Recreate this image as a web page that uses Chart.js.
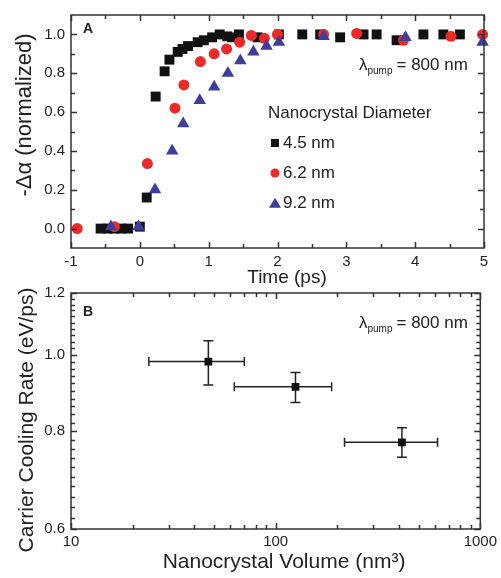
<!DOCTYPE html>
<html>
<head>
<meta charset="utf-8">
<script src="https://cdn.jsdelivr.net/npm/chart.js@4.4.1/dist/chart.umd.min.js"></script>
<style>
  html, body { margin: 0; padding: 0; background: #fff; }
  #wrap { position: relative; width: 501px; height: 578px; }
  #wrap canvas { position: absolute; left: 0; }
  #cA { top: 0; }
  #cB { top: 262px; }
</style>
</head>
<body>
<div id="wrap">
  <canvas id="cA" width="501" height="292"></canvas>
  <canvas id="cB" width="501" height="316"></canvas>
</div>
<script>
// ---- Panel A: normalized bleach rise vs. delay time ----
const time45 = [-0.57, -0.47, -0.37, -0.27, -0.17, 0.0, 0.10, 0.23, 0.36, 0.43, 0.55, 0.62, 0.70, 0.84, 0.93, 1.05, 1.16, 1.27, 1.34, 1.44, 1.71, 2.02, 2.36, 2.62, 2.91, 3.25, 3.44, 3.73, 4.12, 4.41, 4.65];
const rise45 = [0.0, 0.0, 0.0, 0.0, 0.0, 0.01, 0.16, 0.68, 0.81, 0.87, 0.91, 0.925, 0.94, 0.96, 0.97, 0.985, 1.0, 0.99, 0.985, 1.0, 0.985, 1.0, 1.0, 1.0, 0.985, 1.0, 1.0, 0.97, 1.0, 1.0, 1.0];
const time62 = [-0.91, -0.37, 0.11, 0.51, 0.64, 0.88, 1.08, 1.26, 1.45, 1.62, 1.81, 2.0, 2.67, 3.15, 3.83, 4.52, 4.98];
const rise62 = [0.0, 0.01, 0.335, 0.62, 0.74, 0.86, 0.90, 0.925, 0.96, 0.995, 0.98, 1.0, 1.0, 1.005, 0.97, 0.99, 1.0];
const time92 = [-0.42, -0.02, 0.22, 0.47, 0.63, 0.87, 1.08, 1.28, 1.46, 1.65, 1.84, 2.02, 2.67, 3.86, 4.98];
const rise92 = [0.01, 0.01, 0.20, 0.40, 0.54, 0.66, 0.73, 0.80, 0.865, 0.91, 0.94, 0.96, 0.99, 0.985, 0.96];
const diameterLabels = ['4.5 nm', '6.2 nm', '9.2 nm'];
const timeTicks = [-1, 0, 1, 2, 3, 4, 5];
const riseTicks = [0.0, 0.2, 0.4, 0.6, 0.8, 1.0];

// ---- Panel B: cooling rate vs. nanocrystal volume ----
const volume = [46.9, 125, 414];
const volumeLow = [24.0, 62.8, 217];
const volumeHigh = [70.3, 187.7, 618];
const coolingRate = [0.981, 0.911, 0.774];
const coolingRateLow = [0.916, 0.870, 0.741];
const coolingRateHigh = [1.043, 0.950, 0.808];
const volumeTicks = [10, 100, 1000];
const rateTicks = [0.6, 0.8, 1.0, 1.2];

const FONT = '"Liberation Sans", Arial, sans-serif';
const INK = '#222';
const FRAME = '#333';

function points(xs, ys) { return xs.map((x, i) => ({ x, y: ys[i] })); }

function range(start, stop, step) {
  const out = [];
  for (let v = start; v <= stop + 1e-9; v += step) out.push(+v.toFixed(6));
  return out;
}

// Box frame with inward-pointing ticks on all four sides
const frameTicks = {
  id: 'frameTicks',
  afterDatasetsDraw(chart, args, o) {
    const { ctx, chartArea: { left, right, top, bottom }, scales: { x, y } } = chart;
    ctx.save();
    ctx.strokeStyle = FRAME;
    ctx.lineWidth = 1.5;
    ctx.beginPath();
    const xt = (vals, len) => vals.forEach(v => {
      const p = Math.round(x.getPixelForValue(v)) + 0.5;
      ctx.moveTo(p, bottom); ctx.lineTo(p, bottom - len);
      ctx.moveTo(p, top); ctx.lineTo(p, top + len);
    });
    const yt = (vals, len) => vals.forEach(v => {
      const p = Math.round(y.getPixelForValue(v)) + 0.5;
      ctx.moveTo(left, p); ctx.lineTo(left + len, p);
      ctx.moveTo(right, p); ctx.lineTo(right - len, p);
    });
    xt(o.xMajor, 6); xt(o.xMinor, 4);
    yt(o.yMajor, 6); yt(o.yMinor, 4);
    ctx.stroke();
    ctx.strokeRect(left, top, right - left, bottom - top);
    ctx.restore();
  }
};

// Panel letter, pump-wavelength note and axis titles
const captions = {
  id: 'captions',
  afterDraw(chart, args, o) {
    const { ctx } = chart;
    ctx.save();
    ctx.fillStyle = INK;
    ctx.textBaseline = 'middle';
    ctx.textAlign = 'center';
    ctx.font = 'bold 14px ' + FONT;
    ctx.fillText(o.letter.text, o.letter.x, o.letter.y);

    // λ_pump = 800 nm
    ctx.textBaseline = 'alphabetic';
    ctx.textAlign = 'left';
    let px = o.pump.x;
    ctx.font = '17px ' + FONT;
    ctx.fillText('λ', px, o.pump.y);
    px += ctx.measureText('λ').width;
    ctx.font = '10px ' + FONT;
    ctx.fillText('pump', px, o.pump.y + 4);
    px += ctx.measureText('pump').width + 4;
    ctx.font = '17px ' + FONT;
    ctx.fillText('= 800 nm', px, o.pump.y);

    ctx.textBaseline = 'middle';
    ctx.textAlign = 'center';
    ctx.font = o.xTitle.size + 'px ' + FONT;
    ctx.fillText(o.xTitle.text, o.xTitle.x, o.xTitle.y);
    ctx.translate(o.yTitle.x, o.yTitle.y);
    ctx.rotate(-Math.PI / 2);
    ctx.font = o.yTitle.size + 'px ' + FONT;
    ctx.fillText(o.yTitle.text, 0, 0);
    ctx.restore();
  }
};

function drawMarker(ctx, style, cx, cy, r) {
  ctx.beginPath();
  if (style === 'rect') {
    ctx.rect(cx - r, cy - r, 2 * r, 2 * r);
  } else if (style === 'circle') {
    ctx.arc(cx, cy, r, 0, Math.PI * 2);
  } else {
    ctx.moveTo(cx, cy - r * 1.05);
    ctx.lineTo(cx + r * 1.2, cy + r * 0.95);
    ctx.lineTo(cx - r * 1.2, cy + r * 0.95);
    ctx.closePath();
  }
  ctx.fill();
}

// Legend block placed inside the plot area
const insideLegend = {
  id: 'insideLegend',
  afterDraw(chart, args, o) {
    const { ctx } = chart;
    ctx.save();
    ctx.fillStyle = INK;
    ctx.textBaseline = 'middle';
    ctx.textAlign = 'left';
    ctx.font = '17px ' + FONT;
    ctx.fillText(o.title, o.x - 7, o.y);
    o.entries.forEach((e, i) => {
      const ds = chart.data.datasets[e];
      const cy = o.y + o.step * (i + 1);
      ctx.fillStyle = ds.backgroundColor;
      drawMarker(ctx, ds.pointStyle, o.x, cy, o.markerSize[i]);
      ctx.fillStyle = INK;
      ctx.font = '17px ' + FONT;
      ctx.fillText(ds.label, o.x + 8, cy);
    });
    ctx.restore();
  }
};

// Horizontal and vertical error bars with caps
const errorBars = {
  id: 'errorBars',
  beforeDatasetsDraw(chart) {
    const { ctx, scales: { x, y } } = chart;
    ctx.save();
    ctx.strokeStyle = INK;
    ctx.lineWidth = 1.5;
    ctx.beginPath();
    volume.forEach((v, i) => {
      const cx = x.getPixelForValue(v);
      const cy = y.getPixelForValue(coolingRate[i]);
      const x0 = x.getPixelForValue(volumeLow[i]);
      const x1 = x.getPixelForValue(volumeHigh[i]);
      const y0 = y.getPixelForValue(coolingRateLow[i]);
      const y1 = y.getPixelForValue(coolingRateHigh[i]);
      ctx.moveTo(x0, cy); ctx.lineTo(x1, cy);
      ctx.moveTo(x0, cy - 4.5); ctx.lineTo(x0, cy + 4.5);
      ctx.moveTo(x1, cy - 4.5); ctx.lineTo(x1, cy + 4.5);
      ctx.moveTo(cx, y0); ctx.lineTo(cx, y1);
      ctx.moveTo(cx - 5, y0); ctx.lineTo(cx + 5, y0);
      ctx.moveTo(cx - 5, y1); ctx.lineTo(cx + 5, y1);
    });
    ctx.stroke();
    ctx.restore();
  }
};

const tickFont = { family: FONT, size: 15 };
const hiddenGrid = { display: false, drawTicks: false };

// ---------- Panel A ----------
new Chart(document.getElementById('cA'), {
  type: 'scatter',
  data: {
    datasets: [
      { label: diameterLabels[0], data: points(time45, rise45), pointStyle: 'rect', pointRadius: 7, backgroundColor: '#111', borderWidth: 0, order: 3 },
      { label: diameterLabels[1], data: points(time62, rise62), pointStyle: 'circle', pointRadius: 5.5, backgroundColor: '#ec2a28', borderWidth: 0, order: 2 },
      { label: diameterLabels[2], data: points(time92, rise92), pointStyle: 'triangle', pointRadius: 7.2, backgroundColor: '#3f3d9b', borderWidth: 0, order: 1 }
    ]
  },
  options: {
    responsive: false,
    animation: false,
    devicePixelRatio: 1,
    clip: 6,
    layout: { padding: { top: 12, right: 17, left: 0, bottom: 0 } },
    plugins: {
      legend: { display: false },
      tooltip: { enabled: false },
      frameTicks: {
        xMajor: timeTicks, xMinor: range(-0.5, 4.5, 1),
        yMajor: riseTicks, yMinor: range(0.1, 0.9, 0.2)
      },
      captions: {
        letter: { text: 'A', x: 88, y: 29 },
        pump: { x: 359, y: 70 },
        xTitle: { text: 'Time (ps)', x: 287, y: 278, size: 19 },
        yTitle: { text: '-Δα (normalized)', x: 25, y: 115, size: 22 }
      },
      insideLegend: { title: 'Nanocrystal Diameter', x: 275, y: 113, step: 30, entries: [0, 1, 2], markerSize: [4, 4.5, 5] }
    },
    scales: {
      x: {
        type: 'linear', min: -1, max: 5,
        afterBuildTicks: s => { s.ticks = timeTicks.map(v => ({ value: v })); },
        afterFit: s => { s.height = 44; },
        grid: hiddenGrid, border: { display: false },
        ticks: { font: tickFont, color: INK, padding: 5, maxRotation: 0, autoSkip: false, callback: v => String(v) }
      },
      y: {
        type: 'linear', min: -0.1, max: 1.1,
        afterBuildTicks: s => { s.ticks = riseTicks.map(v => ({ value: v })); },
        afterFit: s => { s.width = 71; },
        grid: hiddenGrid, border: { display: false },
        ticks: { font: tickFont, color: INK, padding: 6, autoSkip: false, callback: v => v.toFixed(1) }
      }
    }
  },
  plugins: [frameTicks, captions, insideLegend]
});

// ---------- Panel B ----------
new Chart(document.getElementById('cB'), {
  type: 'scatter',
  data: {
    datasets: [
      { label: 'Cooling rate', data: points(volume, coolingRate), pointStyle: 'rect', pointRadius: 5.5, backgroundColor: '#111', borderWidth: 0 }
    ]
  },
  options: {
    responsive: false,
    animation: false,
    devicePixelRatio: 1,
    layout: { padding: { top: 31, right: 19, left: 0, bottom: 0 } },
    plugins: {
      legend: { display: false },
      tooltip: { enabled: false },
      frameTicks: {
        xMajor: volumeTicks, xMinor: [20, 30, 40, 50, 60, 70, 80, 90, 200, 300, 400, 500, 600, 700, 800, 900],
        yMajor: rateTicks, yMinor: range(0.62, 1.18, 0.02).filter(v => !rateTicks.some(t => Math.abs(t - v) < 1e-6))
      },
      captions: {
        letter: { text: 'B', x: 88, y: 50 },
        pump: { x: 359, y: 66 },
        xTitle: { text: 'Nanocrystal Volume (nm³)', x: 284, y: 300, size: 21 },
        yTitle: { text: 'Carrier Cooling Rate (eV/ps)', x: 27, y: 158, size: 21 }
      }
    },
    scales: {
      x: {
        type: 'logarithmic', min: 10, max: 1000,
        afterBuildTicks: s => { s.ticks = volumeTicks.map(v => ({ value: v })); },
        afterFit: s => { s.height = 49; },
        grid: hiddenGrid, border: { display: false },
        ticks: { font: tickFont, color: INK, padding: 4, maxRotation: 0, autoSkip: false, callback: v => String(v) }
      },
      y: {
        type: 'logarithmic', min: 0.6, max: 1.2,
        afterBuildTicks: s => { s.ticks = rateTicks.map(v => ({ value: v })); },
        afterFit: s => { s.width = 71; },
        grid: hiddenGrid, border: { display: false },
        ticks: { font: tickFont, color: INK, padding: 6, autoSkip: false, callback: v => Number(v).toFixed(1) }
      }
    }
  },
  plugins: [errorBars, frameTicks, captions]
});
</script>
</body>
</html>
